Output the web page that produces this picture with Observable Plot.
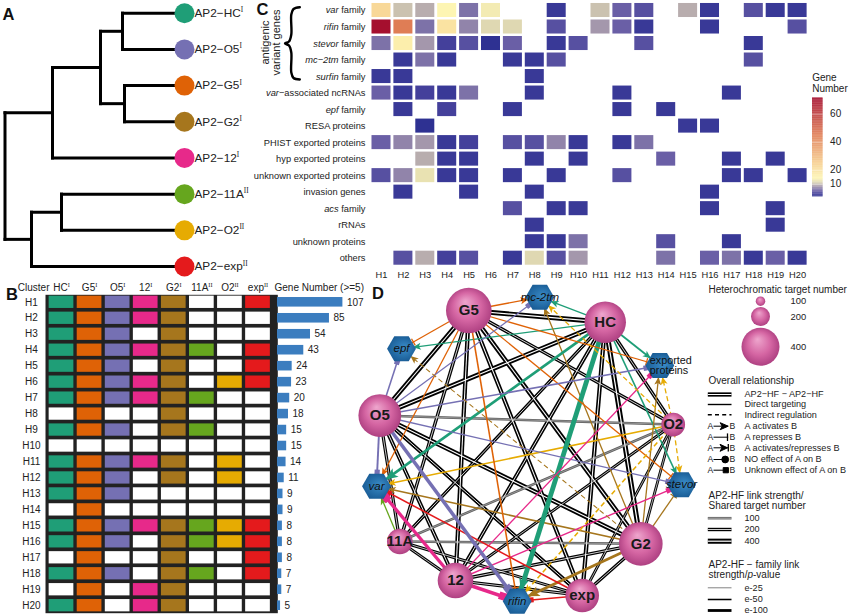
<!DOCTYPE html>
<html><head><meta charset="utf-8">
<script src="https://cdn.jsdelivr.net/npm/d3@7"></script>
<script src="https://cdn.jsdelivr.net/npm/@observablehq/plot@0.6"></script>
<style>html,body{margin:0;padding:0;background:#fff}#page{position:relative;width:850px;height:616px;overflow:hidden}</style>
</head><body><div id="page"></div>
<script>
// ---------- shared data ----------
const hfNames = ["HC","O5","G5","G2","12","11A","O2","exp"];
const hfClass = ["I","I","I","I","I","II","II","II"];
const hfColors = ["#1f9e77","#7570b3","#df6206","#a6761d","#e7298a","#66a61e","#e6ab02","#e41a1c"];
const colorOf = new Map(hfNames.map((n,i)=>[n,hfColors[i]]));
const classOf = new Map(hfNames.map((n,i)=>[n,hfClass[i]]));

// Panel A: dendrogram [id, parent, distance from root]
const treeNodes = [["root",null,4.5],["top","root",52],["bottom","root",31],["a","top",100],["hc-o5","a",122],["g5-g2","a",124],
  ["11a-o2","bottom",61],["HC","hc-o5",184],["O5","hc-o5",184],["G5","g5-g2",184],["G2","g5-g2",184],["12","top",184],["11A","11a-o2",184],["O2","11a-o2",184],["exp","bottom",184]];
const tipOrder = ["HC","O5","G5","G2","12","11A","O2","exp"];

// Panel C: heat map
const clusters = d3.range(1,21).map(i=>"H"+i);
const _ = null;
const heatRows = ["var family","rifin family","stevor family","mc−2tm family","surfin family","var−associated ncRNAs","epf family","RESA proteins","PHIST exported proteins","hyp exported proteins","unknown exported proteins","invasion genes","acs family","rRNAs","unknown proteins","others"];
const varFam      = [22,10, 9,14, 6,13, _, _, 2, _,10, 5, 4, _, 9, 2, _, 4, 2, 2];
const rifinFam    = [71,45, 6,19, 7,11,11, _, 4, _, 8, 5, 2, _, _, 2, _, _, _, 4];
const stevorFam   = [ 6,16, 8, 3, 4, 1, 5, _, 2, 4, _, _, 4, _, _, _, _, 2, _, _];
const mc2tmFam    = [ _, 2, 6, 2, _, _, 2, 2, 4, _, _, _, _, _, _, _, _, 4, _, _];
const surfinFam   = [ 2, 2, _, _, _, _, _, 2, _, _, _, _, _, _, _, _, _, _, _, _];
const ncRNAs      = [ 5, 2, 3, 2, 6, _, _, 2, _, _, _, 2, _, _, _, _, 2, _, _, _];
const epfFam      = [ _, 2, _, 3, _, _, 2, _, _, _, _, 2, _, 2, _, _, _, _, _, _];
const resa        = [ _, _, 1, _, _, _, _, _, _, _, _, _, _, _, 2, 2, _, _, _, _];
const phist       = [ 5, 7, 8, 2, 3, _, 4, 4, 7, 2, _, 2, 6, _, _, _, _, _, _, _];
const hypExp      = [ _, _, 9, 2, 2, _, _, 2, _, 2, _, _, _, 5, _, _, 2, _, 2, _];
const unknownExp  = [ 4, 7,12, 2, 2, _, 2, _, 2, _, _, 4, _, _, _, _, 2, 2, _, 2];
const invasion    = [ _, 2, _, _, 2, _, _, 2, _, _, _, _, _, _, _, 2, _, _, _, _];
const acsFam      = [ _, _, _, _, _, _, 4, _, 2, 2, _, _, _, _, _, 2, _, _, 2, _];
const rRNAs       = [ _, _, _, _, _, _, _, 2, _, _, _, _, _, _, _, _, _, _, 2, _];
const unknownProt = [ _, _, _, _, _, _, _, 2, 2, 6, _, _, _, 4, _, _, 2, _, _, _];
const others      = [ _, 4, 9, 3, 4, _, 2,11, 4, 8, _, _, _, 6, _, 5, 6, 2, 5, 2];
const heatValues = [varFam,rifinFam,stevorFam,mc2tmFam,surfinFam,ncRNAs,epfFam,resa,phist,hypExp,unknownExp,invasion,acsFam,rRNAs,unknownProt,others];
const heatStops  = [1,3,5,8,11,14,25,45,71];
const heatColors = ["#2e3192","#44409b","#6a5fa6","#a497ac","#dfd8b2","#fdf5b3","#f6cd8e","#df7d55","#a50f2e"];
const heatTicks  = [10,20,40,60];

// Panel B: membership matrix
const memberCols = ["HC","G5","O5","12","G2","11A","O2","exp"];
const membership = ["11111001","11111000","11101000","11111101","11101001","11111011","11111100","01001000","11101100","00000000",
  "11111010","11101010","11100000","01000000","11111111","11101111","01001001","11101101","01011000","11011000"];
const geneNumbers = [107,85,54,43,24,23,20,18,15,15,14,11,9,9,8,8,8,7,7,5];

// Panel D: network (layout coordinates)
const netNames   = ["G5","HC","O5","O2","G2","exp","12","11A"];
const netX       = [118.3,254.7,29.3,322.7,290.3,231.7,105,49.3];
const netY       = [30,41.7,135,144,263.3,315,300,261];
const netTargets = [480,437,450,250,460,354,375,270];
const famNames   = ["mc-2tm","epf","exported","stevor","var","rifin"];
const famX       = [189.3,51,309.3,331,26,166.7];
const famY       = [16.7,68.3,85,204.3,205.7,320.7];
const hfLinks = [["G5","HC",380],["G5","O5",350],["HC","O5",350],["G5","12",300],["G5","G2",350],["G5","exp",300],["G5","11A",200],["G5","O2",200],
  ["HC","12",250],["HC","G2",400],["HC","exp",300],["HC","11A",200],["HC","O2",200],["O5","12",250],["O5","G2",350],["O5","exp",250],["O5","11A",180],["O5","O2",100],
  ["12","G2",200],["12","exp",180],["12","11A",150],["11A","G2",100],["11A","exp",150],["11A","O2",95],["O2","G2",130],["O2","exp",130],["O2","12",150],["G2","exp",200]];
// [from, to, effect, indirect?, -log10 p]
const famLinks = [["HC","mc-2tm","arrow",0,40],["HC","epf","arrow",0,40],["HC","exported","arrow",0,60],["HC","stevor","arrow",0,50],["HC","var","arrow",0,95],["HC","rifin","arrow",0,180],
  ["G5","mc-2tm","arrow",0,40],["G5","epf","tbar",0,40],["G5","exported","tbar",0,40],["G5","stevor","tbar",0,40],["G5","var","arrow",0,40],["G5","rifin","tbar",0,50],
  ["O5","mc-2tm","square",0,40],["O5","epf","square",0,50],["O5","exported","square",0,50],["O5","stevor","square",0,40],["O5","var","square",0,65],["O5","rifin","square",0,130],
  ["O2","var","arrow",0,50],["O2","exported","arrow",1,40],["O2","stevor","arrow",1,40],["O2","mc-2tm","arrow",1,40],["O2","rifin","arrow",1,50],
  ["G2","var","arrow",0,50],["G2","epf","arrow",1,30],["G2","mc-2tm","arrow",0,40],["G2","exported","arrow",0,40],["G2","stevor","tbar",0,40],["G2","rifin","arrow",0,100],
  ["12","var","square",0,120],["12","rifin","square",0,130],["12","stevor","square",0,45],["12","exported","square",0,40],
  ["exp","var","square",0,50],["exp","rifin","square",0,50],["11A","var","arrow",0,40]];

// Legend
const legendTargets = [100,200,400];
const relationRows = ["AP2−HF − AP2−HF","Direct targeting","Indirect regulation","A activates B","A represses B","A activates/represses B","NO effect of A on B","Unknown effect of A on B"];
const relationKinds = ["arrow","tbar","both","dot","square"];
const sharedScale = [100,200,400];
const pScale = [25,50,100];

// ---------- helpers ----------
const FONT = "'Liberation Sans',Arial,sans-serif";
const INK = "#222";
const page = document.getElementById("page");
const sphereR = {type:"linear",domain:[0,400],range:[0,19]};
const place = (svg,left,top)=>{svg.style.position="absolute";svg.style.left=left+"px";svg.style.top=top+"px";svg.style.background="transparent";svg.style.overflow="visible";page.appendChild(svg);rich(svg);return svg;};
const canvas = (w,h,extra={})=>({width:w,height:h,margin:0,x:{domain:[0,w],range:[0,w],axis:null},y:{domain:[0,h],range:[0,h],axis:null},
  style:{fontFamily:FONT,fontSize:"10px",color:INK},...extra});
const linkWidth = s=>1.7+s*0.0085;
const linkColor = s=>s<=110?"#5f5f5f":"#000";
const famWidth = e=>0.3+e/40;

function rich(svg){
  const re=/\^(I+)|(var|rifin|stevor|mc−2tm|surfin|epf|acs)(?= family|−assoc)|\bp(?=-value)/g;
  svg.querySelectorAll("text").forEach(t=>{
    if(t.querySelector("tspan"))return;
    const s=t.textContent; let last=0,m,parts=[];
    re.lastIndex=0;
    while((m=re.exec(s))){parts.push([s.slice(last,m.index),""]);
      if(m[1])parts.push([m[1],"sup"]);else parts.push([m[0],"it"]);
      last=m.index+m[0].length;}
    if(!parts.length)return;
    parts.push([s.slice(last),""]);
    t.textContent="";
    parts.forEach(([txt,k])=>{if(!txt)return;
      const el=document.createElementNS("http://www.w3.org/2000/svg","tspan");el.textContent=txt;
      if(k==="it")el.setAttribute("font-style","italic");
      if(k==="sup"){el.setAttribute("font-size","0.62em");el.setAttribute("dy","-0.65em");el.setAttribute("font-family","'Liberation Serif',serif");}
      t.appendChild(el);});
  });
}
function endMarker(kind,offset=0,scale=1){
  return (color)=>{
    const NS="http://www.w3.org/2000/svg";
    const mk=document.createElementNS(NS,"marker");
    mk.setAttribute("viewBox","-40 -12 60 24");mk.setAttribute("markerWidth","60");mk.setAttribute("markerHeight","24");
    mk.setAttribute("refX","0");mk.setAttribute("refY","0");mk.setAttribute("markerUnits","userSpaceOnUse");mk.setAttribute("orient","auto");
    const g=document.createElementNS(NS,"g");g.setAttribute("transform",`translate(${-offset},0) scale(${scale})`);
    const add=(tag,attrs)=>{const e=document.createElementNS(NS,tag);for(const k in attrs)e.setAttribute(k,attrs[k]);g.appendChild(e);};
    if(kind==="arrow"||kind==="both")add("path",{d:kind==="both"?"M-9,-3.5L-1.5,0L-9,3.5L-7,0z":"M-8,-3.5L0,0L-8,3.5L-6,0z",fill:color});
    if(kind==="tbar")add("path",{d:"M-.7,-3.8V3.8",stroke:color,"stroke-width":1.3,fill:"none"});
    if(kind==="both")add("path",{d:"M-.7,-3.8V3.8",stroke:color,"stroke-width":1.3,fill:"none"});
    if(kind==="square")add("rect",{x:-5,y:-2.6,width:5.2,height:5.2,fill:color});
    if(kind==="dot")add("circle",{cx:-3,cy:0,r:3.4,fill:color});
    mk.appendChild(g);return mk;
  };
}

// ---------- Panel A ----------
(()=>{
  const byId=new Map(treeNodes.map(([id,p,x])=>[id,{id,p,x,kids:[]}]));
  byId.forEach(n=>{if(n.p)byId.get(n.p).kids.push(n);});
  const pos=n=>n.y=n.kids.length?d3.mean(n.kids.map(pos)):tipOrder.indexOf(n.id);
  pos(byId.get("root"));
  const nodes=[...byId.values()];
  const horiz=nodes.filter(n=>n.p).map(n=>({x1:byId.get(n.p).x,x2:n.x,y:n.y}));
  const vert=nodes.filter(n=>n.kids.length).map(n=>({x:n.x,y1:d3.min(n.kids,k=>k.y),y2:d3.max(n.kids,k=>k.y)}));
  const svg=Plot.plot({width:250,height:285,margin:0,
    x:{domain:[0,250],range:[0,250],axis:null},
    y:{domain:[0,7],range:[12.7,266],axis:null},color:{type:"identity"},
    style:{fontFamily:FONT,fontSize:"11.8px",color:INK},
    marks:[
      Plot.link(horiz,{x1:"x1",x2:"x2",y1:"y",y2:"y",stroke:"#000",strokeWidth:3,strokeLinecap:"square"}),
      Plot.link(vert,{x1:"x",x2:"x",y1:"y1",y2:"y2",stroke:"#000",strokeWidth:3,strokeLinecap:"square"}),
      Plot.dot(tipOrder,{x:184,y:(d,i)=>i,r:10,fill:d=>colorOf.get(d)}),
      Plot.text(tipOrder,{x:194,y:(d,i)=>i,text:d=>`AP2−${d}^${classOf.get(d)}`,textAnchor:"start",fill:INK})
    ]});
  place(svg,0,0);
})();

// ---------- Panel C ----------
(()=>{
  const cells=heatRows.flatMap((r,i)=>clusters.flatMap((c,j)=>heatValues[i][j]==null?[]:[{row:r,cluster:c,value:heatValues[i][j]}]));
  const svg=Plot.plot({width:600,height:285,marginLeft:118.6,marginRight:40.5,marginTop:.5,marginBottom:17.8,
    x:{type:"band",domain:clusters,padding:.132,round:false,axis:null},
    y:{type:"band",domain:heatRows,padding:.15,round:false,axis:null},
    color:{type:"linear",domain:heatStops,range:heatColors},
    style:{fontFamily:FONT,fontSize:"9.3px",color:INK},
    marks:[
      Plot.cell(cells,{x:"cluster",y:"row",fill:"value"}),
      Plot.axisX({anchor:"bottom",label:null,tickSize:0,tickPadding:3.5}),
      Plot.axisY({anchor:"left",label:null,tickSize:0,tickPadding:3.6})
    ]});
  place(svg,250,0);
  const leg=Plot.plot({width:38,height:98.4,marginLeft:0,marginRight:27.4,marginTop:0,marginBottom:0,
    x:{axis:null,domain:[0,1]},
    y:{domain:[1,71.2],axis:null},
    color:{type:"linear",domain:heatStops,range:heatColors},
    style:{fontFamily:FONT,fontSize:"10px",color:INK},
    marks:[
      Plot.rect(d3.range(1,71.2,.5),{y1:d=>d,y2:d=>d+.6,fill:d=>d}),
      Plot.tickY(heatTicks,{y:d=>d,stroke:"#fff",strokeWidth:.6,strokeOpacity:.6}),
      Plot.axisY(heatTicks,{anchor:"right",label:null,tickSize:0,tickPadding:7})
    ]});
  place(leg,811.7,98.3);
})();

// ---------- Panel B ----------
(()=>{
  const rows=clusters.flatMap((c,i)=>memberCols.map((m,j)=>({cluster:c,hf:m,on:membership[i][j]==="1"})));
  const svg=Plot.plot({width:300,height:336,marginLeft:45,marginRight:22.7,marginTop:14.3,marginBottom:3.3,
    x:{type:"band",domain:memberCols,range:[45,273.5],paddingInner:.12,paddingOuter:.13,round:false,axis:null},
    y:{type:"band",domain:clusters,paddingInner:.23,paddingOuter:.085,round:false,axis:null},
    color:{type:"identity"},
    style:{fontFamily:FONT,fontSize:"10px",color:INK},
    marks:[
      Plot.frame({fill:"#222"}),
      Plot.cell(rows,{x:"hf",y:"cluster",fill:d=>d.on?colorOf.get(d.hf):"#fff"}),
      Plot.axisX({anchor:"top",label:null,tickSize:0,tickPadding:3.8,tickFormat:d=>`${d}^${classOf.get(d)}`}),
      Plot.axisY({anchor:"left",label:null,tickSize:0,tickPadding:14,textAnchor:"middle"})
    ]});
  place(svg,0,280);
  const table=clusters.map((c,i)=>({cluster:c,n:geneNumbers[i]}));
  const bars=Plot.plot({width:100,height:336,marginLeft:0,marginRight:34.6,marginTop:14.3,marginBottom:3.3,
    x:{domain:[0,107],axis:null},
    y:{type:"band",domain:clusters,paddingInner:.4,paddingOuter:.17,round:false,axis:null},
    style:{fontFamily:FONT,fontSize:"10px",color:INK},
    marks:[
      Plot.barX(table,{x:"n",y:"cluster",fill:"#3b7dbf"}),
      Plot.text(table,{x:"n",y:"cluster",text:"n",dx:4,textAnchor:"start",fill:INK})
    ]});
  place(bars,277.3,280);
})();

// ---------- Panel D ----------
(()=>{
  const P=new Map();
  netNames.forEach((n,i)=>P.set(n,{x:netX[i],y:netY[i]}));
  famNames.forEach((n,i)=>P.set(n,{x:famX[i],y:famY[i]}));
  const hf=hfLinks.map(([a,b,s])=>({a:P.get(a),b:P.get(b),s}));
  const fl=famLinks.map(([a,b,k,dash,e])=>({a:P.get(a),b:P.get(b),color:colorOf.get(a),k,dash,e,big:e>=90}));
  const groups=d3.groups(fl,d=>`${d.k}|${d.dash}|${d.big}`);
  const nodes=netNames.map((n,i)=>({name:n,x:netX[i],y:netY[i],t:netTargets[i]}));
  const fams=famNames.map((n,i)=>({name:n,x:famX[i],y:famY[i]}));
  const svg=Plot.plot(canvas(350,336,{color:{type:"identity"},r:sphereR,marks:[
    Plot.link(hf,{x1:d=>d.a.x,y1:d=>d.a.y,x2:d=>d.b.x,y2:d=>d.b.y,stroke:d=>linkColor(d.s),strokeWidth:d=>linkWidth(d.s)}),
    Plot.link(hf,{x1:d=>d.a.x,y1:d=>d.a.y,x2:d=>d.b.x,y2:d=>d.b.y,stroke:d=>d.s<=110?"#bbb":"#fff",strokeWidth:d=>linkWidth(d.s)*.24}),
    ...groups.map(([key,rows])=>Plot.link(rows,{x1:d=>d.a.x,y1:d=>d.a.y,x2:d=>d.b.x,y2:d=>d.b.y,stroke:"color",strokeWidth:d=>famWidth(d.e),
      strokeDasharray:rows[0].dash?"5,3":undefined,markerEnd:endMarker(rows[0].k,rows[0].k==="tbar"?13:11.5,rows[0].big?1.5:1)})),
    Plot.dot(fams,{x:"x",y:"y",r:12.5,symbol:"hexagon",rotate:90,fill:"url(#hexFill)",stroke:"none"}),
    Plot.dot(nodes,{x:"x",y:"y",r:"t",fill:"url(#sphereFill)",stroke:"none"}),
    Plot.text(nodes,{x:"x",y:"y",text:"name",fontSize:15,fontWeight:"bold",fill:"#1a1a1a"}),
    Plot.text(fams.filter(d=>d.name!=="exported"),{x:"x",y:"y",text:"name",fontSize:11.5,fontStyle:"italic",fill:"#111"}),
    Plot.text(fams.filter(d=>d.name==="exported"),{x:d=>d.x-10,y:"y",text:()=>"exported\nproteins",fontSize:10.8,lineHeight:.97,textAnchor:"start",fill:"#111"})
  ]}));
  svg.insertAdjacentHTML("afterbegin",`<defs>
    <radialGradient id="sphereFill" cx=".5" cy=".5" r=".55" fx=".42" fy=".3"><stop offset="0" stop-color="#eea6cd"/><stop offset=".55" stop-color="#d566a3"/><stop offset="1" stop-color="#a83a7c"/></radialGradient>
    <radialGradient id="hexFill" cx=".5" cy=".5" r=".6" fx=".45" fy=".35"><stop offset="0" stop-color="#3a8cc8"/><stop offset="1" stop-color="#15568f"/></radialGradient>
  </defs>`);
  place(svg,350,280);
})();

// ---------- Legend ----------
(()=>{
  const X0=17.3,X1=41,XT=54;
  const sy=[20.7,36,66.3], rowY=[114,124,134.3,145.7,156.7,167.3,179,189.7], sY=[237.7,249,260.7], pY=[307.3,319,330];
  const line=(y,o)=>Plot.link([0],{x1:X0,x2:X1,y1:y,y2:y,stroke:"#000",strokeWidth:1.4,...o});
  const dbl=(y,s)=>[line(y,{stroke:linkColor(s),strokeWidth:linkWidth(s)}),line(y,{stroke:s<=110?"#ddd":"#fff",strokeWidth:linkWidth(s)*.24})];
  const marks=[
    Plot.text(["Heterochromatic target number"],{x:18,y:9.7,text:d=>d,textAnchor:"start",fontSize:10}),
    Plot.dot(legendTargets,{x:70,y:(d,i)=>sy[i],r:d=>d,fill:"url(#sphereFill)",stroke:"none"}),
    Plot.text(legendTargets,{x:100,y:(d,i)=>sy[i],text:d=>d,textAnchor:"start",fontSize:9.4}),
    Plot.text(["Overall relationship"],{x:18,y:100.7,text:d=>d,textAnchor:"start",fontSize:10}),
    ...dbl(rowY[0],300),
    line(rowY[1],{strokeWidth:1.4}),
    line(rowY[2],{strokeWidth:1.4,strokeDasharray:"4,3.2"}),
    Plot.text(relationRows,{x:XT,y:(d,i)=>rowY[i],text:d=>d,textAnchor:"start",fontSize:9.1}),
    ...relationKinds.flatMap((k,i)=>[
      Plot.link([0],{x1:23,x2:k==="both"?38.5:37.7,y1:rowY[3+i],y2:rowY[3+i],stroke:"#000",strokeWidth:1,markerEnd:endMarker(k)}),
      Plot.text(["A"],{x:17,y:rowY[3+i],text:d=>d,textAnchor:"start",fontSize:8.6}),
      Plot.text(["B"],{x:39,y:rowY[3+i],text:d=>d,textAnchor:"start",fontSize:8.6})
    ]),
    Plot.text(["AP2-HF link strength/\nShared target number"],{x:18,y:220,text:d=>d,textAnchor:"start",fontSize:10,lineHeight:1}),
    ...sharedScale.flatMap((s,i)=>dbl(sY[i],s)),
    Plot.text(sharedScale,{x:XT,y:(d,i)=>sY[i],text:d=>d,textAnchor:"start",fontSize:9.1}),
    Plot.text(["AP2-HF − family link\nstrength/p-value"],{x:18,y:289.7,text:d=>d,textAnchor:"start",fontSize:10,lineHeight:1}),
    ...pScale.map((e,i)=>line(pY[i],{stroke:e<=25?"#777":"#000",strokeWidth:famWidth(e)})),
    Plot.text(pScale,{x:XT,y:(d,i)=>pY[i],text:d=>"e-"+d,textAnchor:"start",fontSize:9.1})
  ];
  const svg=Plot.plot(canvas(160,336,{color:{type:"identity"},r:sphereR,marks}));
  svg.querySelectorAll("tspan").forEach(t=>{if(t.textContent==="strength/p-value"){t.innerHTML='strength/<tspan font-style="italic">p</tspan>-value';}});
  place(svg,690,280);
})();

// ---------- Overlay annotations ----------
(()=>{
  const braceX=[299.3,293,290.8,290.8,288.5,284.5,288.5,290.8,290.8,293,299.3];
  const braceY=[6.7,8.5,14,34,41,43,45,52,72,77.5,79];
  const panels=["A","B","C","D"], px=[2,5.5,256,371.5], py=[19,299,14,298];
  const svg=Plot.plot(canvas(850,616,{marks:[
    Plot.line(braceX.map((x,i)=>[x,braceY[i]]),{x:d=>d[0],y:d=>d[1],stroke:"#000",strokeWidth:2.4,curve:"catmull-rom"}),
    Plot.text(panels,{x:(d,i)=>px[i],y:(d,i)=>py[i],text:d=>d,textAnchor:"start",lineAnchor:"bottom",fontSize:16.5,fontWeight:"bold",fill:"#111"}),
    Plot.text(["antigenic\nvariant genes"],{x:270,y:42,text:d=>d,rotate:-90,fontSize:11,lineHeight:1,fill:INK}),
    Plot.text(["Gene\nNumber"],{x:811.7,y:82.5,text:d=>d,textAnchor:"start",fontSize:10,lineHeight:1.13,fill:INK}),
    Plot.text(["Cluster"],{x:17.3,y:287,text:d=>d,textAnchor:"start",fontSize:10,fill:INK}),
    Plot.text(["Gene Number (>=5)"],{x:274,y:287,text:d=>d,textAnchor:"start",fontSize:10,fill:INK})
  ]}));
  place(svg,0,0);
})();
</script></body></html>
